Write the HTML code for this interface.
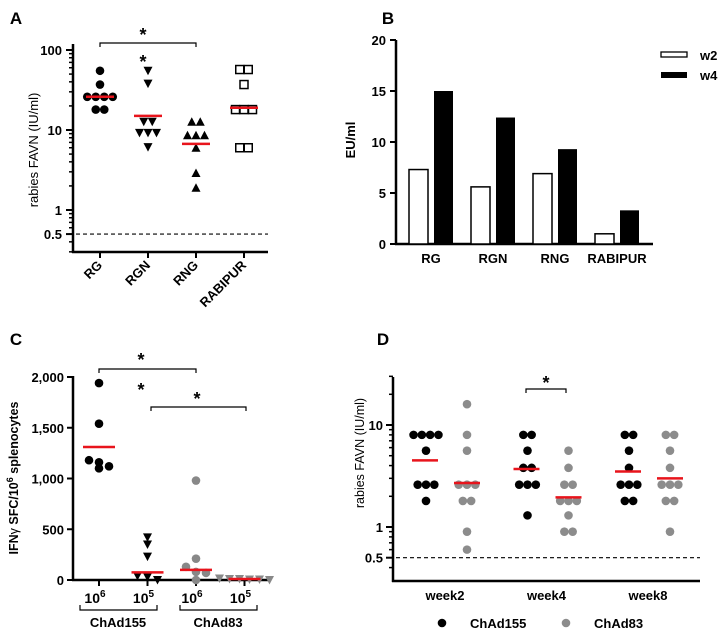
<!DOCTYPE html>
<html><head><meta charset="utf-8"><style>
body{margin:0;background:#fff}
svg{display:block;font-family:"Liberation Sans",Arial,sans-serif;font-weight:bold}
</style></head><body>
<svg id="s" width="724" height="631" viewBox="0 0 724 631"></svg>
<script>
// Panel A data
const aCats=["RG","RGN","RNG","RABIPUR"];
const aVals=[[55,37,26,26,26,26,18,18],[55,38,12.7,12.7,9.2,9.2,9.2,6.1],[12.7,12.7,8.6,8.6,8.6,6,2.9,1.9],[57,57,37,18,18,18,6,6]];
const aMeans=[26,15,6.7,19];
// Panel B data
const bCats=["RG","RGN","RNG","RABIPUR"];
const bW2=[7.3,5.6,6.9,1.0];
const bW4=[15,12.4,9.3,3.3];
const bTicks=[0,5,10,15,20];
// Panel C data
const cCats=["10^6","10^5","10^6","10^5"];
const cVals=[[1940,1540,1180,1100,1120,1160],[420,350,230,40,30,0],[980,210,130,80,70,0],[15,10,10,5,5,0]];
const cMeans=[1310,75,100,10];
const cTicks=[0,500,1000,1500,2000];
// Panel D data
const dCats=["week2","week4","week8"];
const d155=[[8,8,8,8,5.6,2.6,2.6,2.6,1.8],[8,8,5.6,3.8,3.8,2.6,2.6,2.6,1.3],[8,8,5.6,3.8,2.6,2.6,2.6,1.8,1.8]];
const d83=[[16,8,5.6,2.6,2.6,2.6,1.8,1.8,0.9,0.6],[5.6,3.8,2.6,2.6,1.8,1.8,1.8,1.3,0.9,0.9],[8,8,5.6,3.8,2.6,2.6,2.6,1.8,1.8,0.9]];
const d155Means=[4.5,3.7,3.5];
const d83Means=[2.7,1.95,3.0];

const S=document.getElementById('s');
const NS="http://www.w3.org/2000/svg";
function el(t,a,name,txt){const e=document.createElementNS(NS,t);for(const k in a)e.setAttribute(k,a[k]);


if(txt!==undefined)e.textContent=txt;S.appendChild(e);return e;}
function line(x1,y1,x2,y2,name,w,c,dash){const a={x1,y1,x2,y2,stroke:c||'#000','stroke-width':w||2};if(dash)a['stroke-dasharray']=dash;return el('line',a,name);}
function text(x,y,s,name,size,anchor,extra){const a={x,y,'font-size':size||13,'text-anchor':anchor||'middle'};Object.assign(a,extra||{});return el('text',a,name,s);}
function marker(shape,x,y,fill,name){
 if(shape==='c')return el('circle',{cx:x,cy:y,r:4.3,fill},name);
 if(shape==='td')return el('polygon',{points:`${x-4.5},${y-4} ${x+4.5},${y-4} ${x},${y+4.5}`,fill},name);
 if(shape==='tu')return el('polygon',{points:`${x-4.5},${y+4} ${x+4.5},${y+4} ${x},${y-4.5}`,fill},name);
 if(shape==='sq')return el('rect',{x:x-4,y:y-4,width:8,height:8,fill:'#fff',stroke:'#000','stroke-width':1.5},name);
}
function scatter(vals,cx,yf,shape,fill,sp,name){
 const ys=vals.map(v=>yf(v)).sort((a,b)=>a-b);
 const groups=[];let cur=null;
 ys.forEach(y=>{if(cur&&y-cur[0]<7)cur.push(y);else{cur=[y];groups.push(cur);}});
 groups.forEach(g=>{const n=g.length;g.forEach((y,i)=>marker(shape,cx+(i-(n-1)/2)*sp,y,fill,name));});
}
function logTicks(x,yf,lo,hi,name){
 for(let d=Math.floor(Math.log10(lo));d<=Math.log10(hi);d++){for(let m=1;m<10;m++){const v=m*Math.pow(10,d);if(v<lo||v>hi)continue;
 line(x-(m===1?6:4),yf(v),x,yf(v),name,1.5);}}
}
// ---------- Panel A ----------
text(16,24,"A","panel-a-label",17,'middle');
const aY=v=>130-80*Math.log10(v/10);
const aX=i=>100+i*48;
line(73,44,73,253,"a-y-axis",2.5);line(72,252,268,252,"a-x-axis",2.5);
logTicks(73,aY,0.3,100,"a-y-tick");
[[100,"100"],[10,"10"],[1,"1"],[0.5,"0.5"]].forEach(t=>{line(66,aY(t[0]),73,aY(t[0]),"a-y-tick",2);text(62,aY(t[0])+5,t[1],"a-y-tick-label",13,'end');});
line(76,aY(0.5),268,aY(0.5),"a-threshold-line",1.2,'#000','4,3');
text(38,150,"rabies FAVN (IU/ml)","a-y-axis-title",13,'middle',{transform:"rotate(-90 38 150)",'font-weight':'normal'});
const aShapes=['c','td','tu','sq'];
aCats.forEach((c,i)=>{line(aX(i),252,aX(i),258,"a-x-tick",2);
 text(aX(i)+3,266,c,"a-x-label",13,'end',{transform:`rotate(-45 ${aX(i)+3} 266)`});
 scatter(aVals[i],aX(i),aY,aShapes[i],'#000',8.5,"a-point-"+c.toLowerCase());
 line(aX(i)-14,aY(aMeans[i]),aX(i)+14,aY(aMeans[i]),"a-mean-"+c.toLowerCase(),2.5,'#e8141c');});
el('path',{d:`M${aX(0)},47 V43 H${aX(2)} V47`,fill:'none',stroke:'#000','stroke-width':1.2},"a-sig-bracket");
text(143,41,"*","a-sig-star",18);text(143,68,"*","a-sig-star-rgn",18);
// ---------- Panel B ----------
text(388,24,"B","panel-b-label",17);
const bY=v=>244-v*10.2;
const bX=i=>431+i*62;
line(396,40,396,245,"b-y-axis",2.5);line(395,244,653,244,"b-x-axis",2.5);
bTicks.forEach(t=>{line(390,bY(t),396,bY(t),"b-y-tick",2);text(386,bY(t)+5,t,"b-y-tick-label",13,'end');});
text(355,140,"EU/ml","b-y-axis-title",13,'middle',{transform:"rotate(-90 355 140)"});
bCats.forEach((c,i)=>{
 el('rect',{x:bX(i)-22,y:bY(bW2[i]),width:19,height:bY(0)-bY(bW2[i]),fill:'#fff',stroke:'#000','stroke-width':1.5},"b-bar-w2-"+c.toLowerCase());
 el('rect',{x:bX(i)+3,y:bY(bW4[i]),width:19,height:bY(0)-bY(bW4[i]),fill:'#000'},"b-bar-w4-"+c.toLowerCase());
 text(bX(i),263,c,"b-x-label",13);});
el('rect',{x:661,y:52,width:26,height:5,fill:'#fff',stroke:'#000','stroke-width':1.3},"b-legend-w2-swatch");
el('rect',{x:661,y:72,width:26,height:6,fill:'#000'},"b-legend-w4-swatch");
text(700,60,"w2","b-legend-w2",13,'start');text(700,80,"w4","b-legend-w4",13,'start');
// ---------- Panel C ----------
text(16,345,"C","panel-c-label",17);
const cY=v=>580-v*0.1015;
const cX=i=>99+i*48.5;
line(73,376,73,581,"c-y-axis",2.5);line(72,580,268,580,"c-x-axis",2.5);
cTicks.forEach(t=>{line(67,cY(t),73,cY(t),"c-y-tick",2);text(64,cY(t)+5,t.toLocaleString('en-US'),"c-y-tick-label",13,'end');});
const ct=text(18,478,"","c-y-axis-title",12.5,'middle',{transform:"rotate(-90 18 478)"});
ct.innerHTML='IFN<tspan font-weight="normal">γ</tspan> SFC/10<tspan dy="-5" font-size="9">6</tspan><tspan dy="5"> splenocytes</tspan>';
const cShapes=['c','td','c','td'],cFill=['#000','#000','#888','#888'];
cCats.forEach((c,i)=>{line(cX(i),580,cX(i),586,"c-x-tick",2);
 scatter(cVals[i],cX(i),cY,cShapes[i],cFill[i],10,"c-point-"+i);
 line(cX(i)-16,cY(cMeans[i]),cX(i)+16,cY(cMeans[i]),"c-mean-"+i,2.5,'#e8141c');
 const p=c.split('^');const t=text(cX(i)-4,603,"","c-x-label",14);t.innerHTML=p[0]+'<tspan dy="-6" font-size="10">'+p[1]+'</tspan>';});
el('path',{d:`M${cX(0)},373 V369 H${cX(2)} V373`,fill:'none',stroke:'#000','stroke-width':1.2},"c-sig-bracket-1");
el('path',{d:`M151,411 V407 H246 V411`,fill:'none',stroke:'#000','stroke-width':1.2},"c-sig-bracket-2");
text(141,366,"*","c-sig-star-1",18);text(141,396,"*","c-sig-star-2",18);text(197,405,"*","c-sig-star-3",18);
el('path',{d:"M80,605 V610 H157 V605",fill:'none',stroke:'#000','stroke-width':1.2},"c-group-brace-chad155");
el('path',{d:"M180,605 V610 H257 V605",fill:'none',stroke:'#000','stroke-width':1.2},"c-group-brace-chad83");
text(118,627,"ChAd155","c-group-label-chad155",13);text(218,627,"ChAd83","c-group-label-chad83",13);
// ---------- Panel D ----------
text(383,345,"D","panel-d-label",17);
const dY=v=>425-102*Math.log10(v/10);
const dX=i=>445+i*101.5;
line(393,377,393,582,"d-y-axis",2.5);line(392,581,700,581,"d-x-axis",2.5);
logTicks(393,dY,0.35,30,"d-y-tick");
[[10,"10"],[1,"1"],[0.5,"0.5"]].forEach(t=>{line(386,dY(t[0]),393,dY(t[0]),"d-y-tick",2);text(383,dY(t[0])+5,t[1],"d-y-tick-label",13,'end');});
line(396,dY(0.5),700,dY(0.5),"d-threshold-line",1.2,'#000','4,3');
text(364,453,"rabies FAVN (IU/ml)","d-y-axis-title",12.5,'middle',{transform:"rotate(-90 364 453)",'font-weight':'normal'});
dCats.forEach((c,i)=>{
 scatter(d155[i],dX(i)-19,dY,'c','#000',8.3,"d-point-chad155-"+c);
 scatter(d83[i],dX(i)+22,dY,'c','#8c8c8c',8.3,"d-point-chad83-"+c);
 line(dX(i)-33,dY(d155Means[i]),dX(i)-7,dY(d155Means[i]),"d-mean-chad155-"+c,2.5,'#e8141c');
 line(dX(i)+9,dY(d83Means[i]),dX(i)+35,dY(d83Means[i]),"d-mean-chad83-"+c,2.5,'#e8141c');
 text(dX(i),600,c,"d-x-label",13);});
el('path',{d:"M526,393 V389 H566 V393",fill:'none',stroke:'#000','stroke-width':1.2},"d-sig-bracket");
text(546,389,"*","d-sig-star",18);
el('circle',{cx:442,cy:623,r:4.3,fill:'#000'},"d-legend-chad155-marker");
text(470,628,"ChAd155","d-legend-chad155",13,'start');
el('circle',{cx:566,cy:623,r:4.3,fill:'#8c8c8c'},"d-legend-chad83-marker");
text(594,628,"ChAd83","d-legend-chad83",13,'start');
</script>
</body></html>
